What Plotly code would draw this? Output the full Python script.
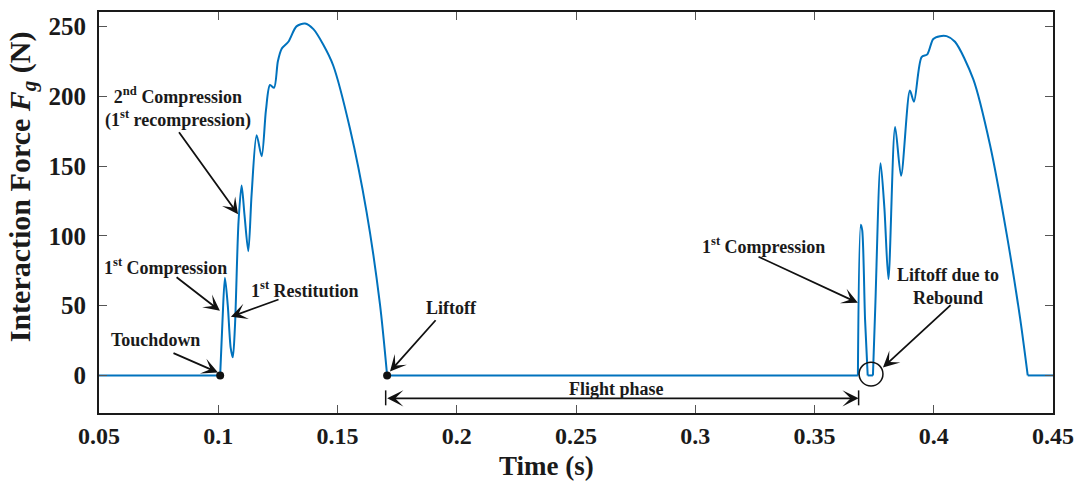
import plotly.graph_objects as go

# ---- data -------------------------------------------------------------
# first stance phase (touchdown -> liftoff)
impact1_t = [0.1008, 0.1018, 0.1028, 0.1040, 0.1052, 0.1061, 0.1070, 0.1085,
             0.1098, 0.1110, 0.1126, 0.1140, 0.1161, 0.1182, 0.1200, 0.1217,
             0.1234, 0.1250, 0.1266, 0.1294, 0.1328, 0.1364, 0.1399, 0.1440,
             0.1482, 0.1552, 0.1622, 0.1678, 0.1708]
impact1_f = [0, 40, 70, 50, 20, 13, 35, 110,
             136, 115, 89, 130, 172, 157, 190, 208,
             206, 225, 234, 239, 250, 252, 248, 237,
             222, 177, 117, 51, 0]

# second touchdown: short spike, rebound liftoff, then the full stance
rebound_t = [0.3682, 0.3694, 0.3700, 0.3712, 0.3723]
rebound_f = [0, 108, 104, 40, 0]

impact2_t = [0.3745, 0.3755, 0.3777, 0.3793, 0.3810, 0.3838, 0.3863, 0.3900,
             0.3917, 0.3949, 0.3973, 0.3998, 0.4026, 0.4054, 0.4089, 0.4166,
             0.4236, 0.4306, 0.4362, 0.4394]
impact2_f = [0, 50, 152, 120, 69, 178, 143, 204,
             196, 228, 230, 241, 243, 243, 239, 212,
             165, 101, 41, 0]

# zero-force (flight) stretches
ground_t = [0.05, 0.1008, None, 0.1708, 0.3682, None, 0.3723, 0.3745, None, 0.4394, 0.45]
ground_f = [0, 0, None, 0, 0, None, 0, 0, None, 0, 0]

event_t = [0.1008, 0.1708]   # touchdown, liftoff
event_f = [0, 0]

x_ticks = [0.05, 0.1, 0.15, 0.2, 0.25, 0.3, 0.35, 0.4, 0.45]
x_ticktext = ["0.05", "0.1", "0.15", "0.2", "0.25", "0.3", "0.35", "0.4", "0.45"]
y_ticks = [0, 50, 100, 150, 200, 250]
y_ticktext = ["0", "50", "100", "150", "200", "250"]

# ---- styling ------------------------------------------------------------
BLUE = "#0072BD"
SERIF = "Liberation Serif"
INK = "#1a1a1a"


def bold(s):
    return "<b>" + s + "</b>"


fig = go.Figure()

fig.add_trace(go.Scatter(x=ground_t, y=ground_f, mode="lines",
                         line=dict(color=BLUE, width=2),
                         hoverinfo="skip", showlegend=False))
for tt, ff in [(impact1_t, impact1_f), (rebound_t, rebound_f), (impact2_t, impact2_f)]:
    fig.add_trace(go.Scatter(x=tt, y=ff, mode="lines",
                             line=dict(color=BLUE, width=2, shape="spline", smoothing=0.8),
                             hoverinfo="skip", showlegend=False))

fig.add_trace(go.Scatter(x=event_t, y=event_f, mode="markers",
                         marker=dict(color="#111", size=8),
                         cliponaxis=False, hoverinfo="skip", showlegend=False))

# ---- annotations ---------------------------------------------------------
label_font = dict(family=SERIF, size=18, color=INK)

labels = [
    ("Touchdown", 0.0735, 25.6),
    ("1<sup>st</sup> Compression", 0.0777, 78.3),
    ("1<sup>st</sup> Restitution", 0.1364, 61.3),
    ("2<sup>nd</sup> Compression<br>(1<sup>st</sup> recompression)", 0.0831, 191.6),
    ("Liftoff", 0.1980, 48.4),
    ("1<sup>st</sup> Compression", 0.3288, 93.3),
    ("Liftoff due to<br>Rebound", 0.4060, 64.0),
]
for txt, lx, ly in labels:
    fig.add_annotation(x=lx, y=ly, xref="x", yref="y", text=bold(txt), showarrow=False,
                       font=label_font, align="center",
                       xanchor="center", yanchor="middle")

# pointer arrows: (tail_t, tail_f) -> (tip_t, tip_f)
pointers = [
    (0.0806, 16.4, 0.0999, 2.1),
    (0.0819, 71.2, 0.1007, 46.3),
    (0.1259, 54.8, 0.1053, 42.0),
    (0.0831, 175.2, 0.1083, 115.4),
    (0.1917, 40.6, 0.1720, 2.8),
    (0.3259, 85.5, 0.3682, 52.0),
    (0.4077, 51.3, 0.3787, 5.7),
]
for at, af, tt, tf in pointers:
    fig.add_annotation(x=tt, y=tf, ax=at, ay=af, xref="x", yref="y",
                       axref="x", ayref="y", text="", showarrow=True,
                       arrowhead=3, arrowsize=1.5, arrowwidth=1.8, arrowcolor="#111")

# flight phase span
fig.add_annotation(x=0.3685, y=-16.4, ax=0.1702, ay=-16.4, xref="x", yref="y",
                   axref="x", ayref="y", text="", showarrow=True,
                   arrowhead=3, startarrowhead=3, arrowside="end+start",
                   arrowsize=1.5, startarrowsize=1.5, arrowwidth=1.8, arrowcolor="#111")
for xe in (0.1702, 0.3685):
    fig.add_shape(type="line", x0=xe, x1=xe, y0=-10.7, y1=-21.4,
                  xref="x", yref="y", line=dict(color="#111", width=1.5))
fig.add_annotation(x=0.2671, y=-10.0, xref="x", yref="y", text=bold("Flight phase"),
                   showarrow=False, font=label_font, xanchor="center", yanchor="middle")

# circle marking the rebound liftoff
fig.add_shape(type="circle", xref="x", yref="y",
              x0=0.3737 - 0.005, x1=0.3737 + 0.005, y0=1 - 8.5, y1=1 + 8.5,
              line=dict(color="#111", width=1.5))

# axis titles
fig.add_annotation(xref="paper", yref="paper", x=-0.0807, y=0.563,
                   xanchor="center", yanchor="middle",
                   text=bold("Interaction Force <i>F</i><sub><i>g</i></sub> (N)"),
                   textangle=-90, showarrow=False,
                   font=dict(family=SERIF, size=30, color=INK))
fig.add_annotation(xref="paper", yref="paper", x=0.4686, y=-0.132,
                   xanchor="center", yanchor="middle",
                   text=bold("Time (s)"), showarrow=False,
                   font=dict(family=SERIF, size=27, color=INK))

axis_common = dict(showgrid=False, zeroline=False, showline=True, mirror="ticks",
                   linecolor=INK, linewidth=1.5, ticks="inside", ticklen=8,
                   tickwidth=1, tickcolor="#555")

fig.update_xaxes(range=[0.05, 0.45], tickvals=x_ticks,
                 ticktext=[bold(s) for s in x_ticktext],
                 tickfont=dict(family=SERIF, size=24, color=INK),
                 **axis_common)
# trailing non-breaking space pushes the value labels a little off the axis
fig.update_yaxes(range=[-26.9, 260.3], tickvals=y_ticks,
                 ticktext=[bold(s) + "&nbsp;" for s in y_ticktext],
                 tickfont=dict(family=SERIF, size=25, color=INK),
                 **axis_common)

fig.update_layout(width=1088, height=482, margin=dict(l=99, r=35, t=10, b=69),
                  plot_bgcolor="white", paper_bgcolor="white")

fig.write_html("out.html")
